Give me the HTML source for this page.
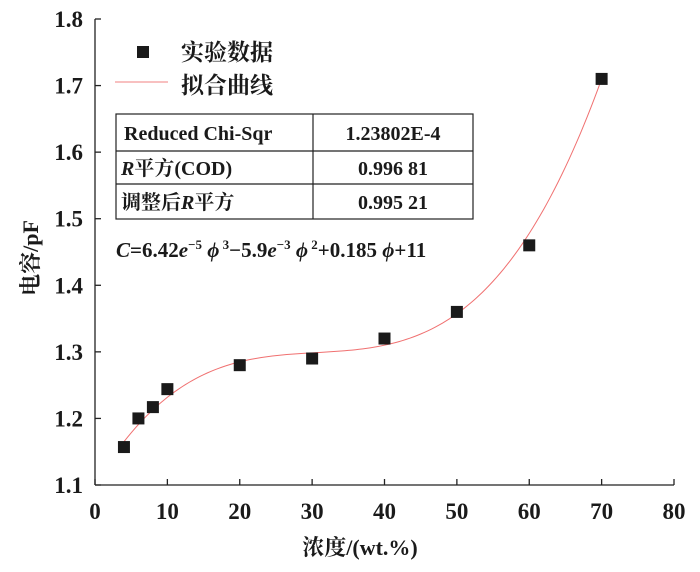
<!DOCTYPE html>
<html><head><meta charset="utf-8"><style>
body{margin:0;background:#fff;}
svg text{font-family:"Liberation Serif","Noto Serif CJK SC",serif !important;fill:#1a1a1a;}
</style></head><body>
<svg id="chart" width="700" height="567" viewBox="0 0 700 567" font-family="Liberation Serif, Noto Serif CJK SC, serif">
<g id="axes"></g>
<g id="curve"></g>
<g id="points"></g>
<g>
<rect x="137" y="46" width="12" height="12" fill="#1a1a1a"/>
<text x="181" y="60" font-size="23" font-weight="bold">实验数据</text>
<line x1="115" y1="82" x2="168" y2="82" stroke="#f08080" stroke-width="1"/>
<text x="181" y="93" font-size="23" font-weight="bold">拟合曲线</text>
</g>
<g font-size="20" font-weight="bold">
<rect x="116" y="114" width="357" height="105" fill="#fff" stroke="#222" stroke-width="1.2"/>
<line x1="313" y1="114" x2="313" y2="219" stroke="#222" stroke-width="1.2"/>
<line x1="116" y1="151" x2="473" y2="151" stroke="#222" stroke-width="1.2"/>
<line x1="116" y1="184" x2="473" y2="184" stroke="#222" stroke-width="1.2"/>
<text x="124" y="140">Reduced Chi-Sqr</text>
<text x="393" y="140" text-anchor="middle">1.23802E-4</text>
<text x="121" y="175"><tspan font-style="italic">R</tspan>平方(COD)</text>
<text x="393" y="175" text-anchor="middle">0.996 81</text>
<text x="121" y="209">调整后<tspan font-style="italic">R</tspan>平方</text>
<text x="393" y="209" text-anchor="middle">0.995 21</text>
</g>
<text x="116" y="257" font-size="21" font-weight="bold"><tspan font-style="italic">C</tspan>=6.42<tspan font-style="italic">e</tspan><tspan font-size="13" dy="-8">−5</tspan><tspan dy="8" font-style="italic"> ϕ</tspan><tspan font-size="13" dy="-8"> 3</tspan><tspan dy="8">−5.9</tspan><tspan font-style="italic">e</tspan><tspan font-size="13" dy="-8">−3</tspan><tspan dy="8" font-style="italic"> ϕ</tspan><tspan font-size="13" dy="-8"> 2</tspan><tspan dy="8">+0.185 </tspan><tspan font-style="italic">ϕ</tspan>+11</text>
<text x="360" y="555" font-size="22" font-weight="bold" text-anchor="middle">浓度/(wt.%)</text>
<text transform="translate(38,258) rotate(-90)" font-size="22" font-weight="bold" text-anchor="middle">电容/pF</text>
</svg>
<script>
const xs=[4,6,8,10,20,30,40,50,60,70];
const ys=[1.157,1.200,1.217,1.244,1.280,1.290,1.320,1.360,1.460,1.710];
const fitCoef=[1.101,0.01821,-0.0005763,0.000006292];
const xTicks=[0,10,20,30,40,50,60,70,80];
const yTicks=[1.1,1.2,1.3,1.4,1.5,1.6,1.7,1.8];
const fitRange=[4,70];
const NS="http://www.w3.org/2000/svg";
const X0=95,X1=674,Y0=485,Y1=19;
const sx=v=>X0+(v-0)/(80-0)*(X1-X0);
const sy=v=>Y0-(v-1.1)/(1.8-1.1)*(Y0-Y1);
function mk(tag,at,parent){const e=document.createElementNS(NS,tag);for(const k in at)e.setAttribute(k,at[k]);parent.appendChild(e);return e;}
const ax=document.getElementById('axes');
let l=mk('line',{x1:X0,y1:Y1,x2:X0,y2:Y0,stroke:'#222','stroke-width':1.3},ax);


l=mk('line',{x1:X0,y1:Y0,x2:X1,y2:Y0,stroke:'#222','stroke-width':1.3},ax);


xTicks.forEach(t=>{
 const tk=mk('line',{x1:sx(t),y1:Y0,x2:sx(t),y2:Y0-6,stroke:'#222','stroke-width':1.3},ax);
 
 
 const tx=mk('text',{x:sx(t),y:Y0+34,'font-size':23,'font-weight':'bold','text-anchor':'middle'},ax);
 tx.textContent=t;
 
 
});
yTicks.forEach(t=>{
 const tk=mk('line',{x1:X0,y1:sy(t),x2:X0+6,y2:sy(t),stroke:'#222','stroke-width':1.3},ax);
 
 
 const tx=mk('text',{x:X0-12,y:sy(t)+8,'font-size':23,'font-weight':'bold','text-anchor':'end'},ax);
 tx.textContent=t.toFixed(1);
 
 
});
let d='';
for(let i=0;i<=132;i++){const v=fitRange[0]+(fitRange[1]-fitRange[0])*i/132;
 const c=fitCoef[0]+fitCoef[1]*v+fitCoef[2]*v*v+fitCoef[3]*v*v*v;
 d+=(i?'L':'M')+sx(v).toFixed(2)+' '+sy(c).toFixed(2);}
const p=mk('path',{d:d,fill:'none',stroke:'#f07070','stroke-width':1},document.getElementById('curve'));


const pg=document.getElementById('points');
xs.forEach((x,i)=>{
 const r=mk('rect',{x:sx(x)-6,y:sy(ys[i])-6,width:12,height:12,fill:'#1a1a1a'},pg);
 
 
});
</script>
</body></html>
